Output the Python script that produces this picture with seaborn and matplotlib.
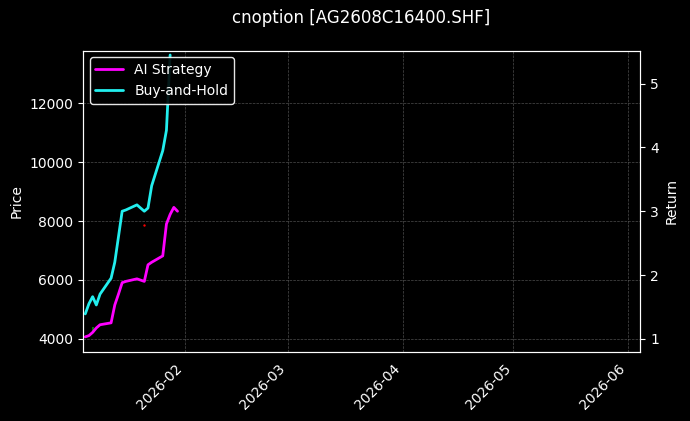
import matplotlib
matplotlib.use("Agg")
import matplotlib.pyplot as plt
import matplotlib.dates as mdates
import seaborn as sns
import pandas as pd
import numpy as np

dates = pd.to_datetime(["2026-01-05","2026-01-06","2026-01-07","2026-01-08","2026-01-09",
    "2026-01-12","2026-01-13","2026-01-14","2026-01-15","2026-01-16","2026-01-19","2026-01-20",
    "2026-01-21","2026-01-22","2026-01-23","2026-01-26","2026-01-27","2026-01-28","2026-01-29","2026-01-30"])
ai_ret = [1.03,1.05,1.10,1.17,1.22,1.25,1.53,1.70,1.88,1.90,1.94,1.92,1.90,2.16,2.20,2.30,2.80,2.95,3.06,3.00]
bh_ret = [1.39,1.55,1.66,1.53,1.70,1.95,2.20,2.60,3.00,3.02,3.10,3.05,3.00,3.05,3.40,3.95,4.27,5.45,np.nan,np.nan]
buy_dates = pd.to_datetime(["2026-01-07"]); buy_prices = [4300]
sell_dates = pd.to_datetime(["2026-01-21"]); sell_prices = [7850]

sns.set_style("dark")
plt.rcParams.update({"figure.facecolor":"black","axes.facecolor":"black","text.color":"white",
    "axes.labelcolor":"white","xtick.color":"white","ytick.color":"white","axes.edgecolor":"white"})
plt.rcParams['font.family'] = ['DejaVu Sans']

xmin, xmax = pd.Timestamp("2026-01-04 08:00"), pd.Timestamp("2026-06-04 10:00")
fig, ax = plt.subplots(figsize=(6.9, 4.21), dpi=100)
ax.set_ylim(3560, 13800)
ax.set_xlim(xmin, xmax)
ax.scatter(buy_dates, buy_prices, marker="|", color="green", s=20, zorder=3)
ax.scatter(sell_dates, sell_prices, marker=".", color="red", s=2, zorder=3)
ax.set_ylabel("Price")
ax.grid(True, color="gray", linestyle="--", linewidth=0.5, alpha=0.6)
ax.xaxis.set_major_locator(mdates.MonthLocator())
ax.xaxis.set_major_formatter(mdates.DateFormatter("%Y-%m"))
plt.setp(ax.get_xticklabels(), rotation=45, ha="right")

ax2 = ax.twinx()
df = pd.DataFrame({"date": dates, "AI Strategy": ai_ret, "Buy-and-Hold": bh_ret})
sns.lineplot(data=df, x="date", y="AI Strategy", ax=ax2, color="#ff00ff", linewidth=2, label="AI Strategy")
sns.lineplot(data=df, x="date", y="Buy-and-Hold", ax=ax2, color="#22eeee", linewidth=2, label="Buy-and-Hold")
ax2.set_ylim(0.80, 5.52)
ax2.set_ylabel("Return")
ax2.set_xlabel("")
ax.set_xlabel("")
ax2.set_xlim(xmin, xmax)
for s in ax2.spines.values(): s.set_color("white")
leg = ax2.legend(loc="upper left", facecolor="black", edgecolor="white", framealpha=0.9)
for t in leg.get_texts(): t.set_color("white")
ax.set_title("cnoption [AG2608C16400.SHF]", pad=20)
fig.subplots_adjust(left=0.12, right=0.928, top=0.88, bottom=0.165)
fig.savefig("out.png", dpi=100, facecolor="black")
